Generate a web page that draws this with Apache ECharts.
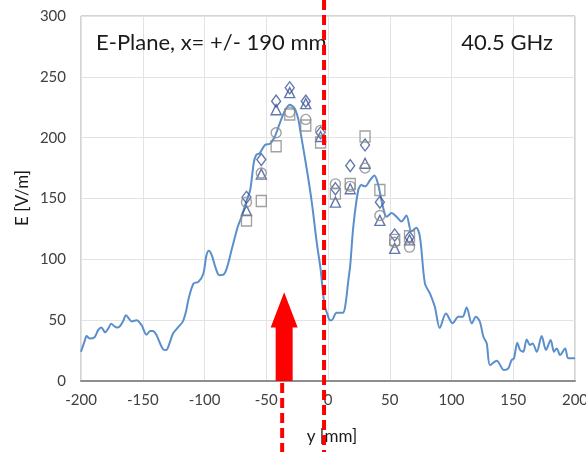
<!DOCTYPE html>
<html><head><meta charset="utf-8">
<script src="https://cdn.jsdelivr.net/npm/echarts@6/dist/echarts.min.js"></script>
<style>html,body{margin:0;padding:0;background:#fff}#c{width:586px;height:452px}</style>
</head><body><div id="c"></div>
<script>
// ---- data ----
const xTicks = [-200, -150, -100, -50, 0, 50, 100, 150, 200];
const yTicks = [0, 50, 100, 150, 200, 250, 300];

const simX = [-200,-197,-195.5,-193,-189,-186,-183.5,-180.5,-178,-175.5,-173,-171,-168.5,-166,-163.5,-161,-159,-155,-151,-147,-144,-142,-139,-136,-133.5,-131,-128,-125.5,-121.5,-117.5,-115,-113,-109,-105,-101,-98.5,-96.5,-94,-91,-88,-84,-81,-78,-73,-70,-66,-63,-60,-58,-55.5,-51,-47,-43,-39,-35,-31,-27,-24,-22.5,-17,-13,-9,-6,-4,-2.5,-0.5,1.5,3,7,12,14,16.5,18,20.5,24.5,27,30,34,37.5,40.5,44.5,47.5,51.5,55.5,59.5,63.5,67.5,71.5,74.5,78.5,82.5,86.5,90.5,95.5,101,105.5,109,112.3,116.4,119.8,123,125.8,128.5,131.2,136.6,142.5,146,148.7,150.6,153.3,155.5,158.1,160.9,163.6,165.7,169,173,176.5,180.3,183,185.2,187.9,192,194.6,200];
const simY = [24,33,37,35,36,42,44,40,43,47,45,44,45,49,54,51,49,50,46,38,41,41,38,31,26,25.5,32,39,44,49,57,67,80,81.5,88,103,107,103,93,87,88,96,108,127,135,148,157,180,186,187,194,195,201,212,222,227,224,215,206,173,146,113,92,72,61,55,50,50,56,56,62,83,95,127,157,161,160,165,169,162,143,135,138,135,131,136,123,126,118,80,72,61,43.5,55.5,47.4,52.8,52.8,60.5,47.3,52.8,48.7,36.4,31,13,16.7,9,10.4,17.3,18.6,31.5,25.5,24,34.2,29.6,30.9,24,37,25.5,33.7,24,26.8,21.4,26.8,18.6,18.6];

const measX       = [-66, -54, -42, -31, -18, -6, 6, 18, 30, 42, 54, 66];
const measDiamond = [151, 182, 230, 241, 230, 204, 158, 177, 194, 147, 120, 118];
const measTriangle= [140, 170, 223, 237, 228, 201, 147, 158, 179, 132, 109, 116];
const measCircle  = [147, 171, 204, 221, 215, 206, 162, 160, 175, 136, 114, 110];
const measSquare  = [132, 148, 193, 219, 210, 196, 154, 162, 201, 157, 116, 119];

// annotation positions (data units)
const feedLineX = -3.2;    // vertical red dashed line
const arrowX = -35.5;      // red arrow centre
const arrowTipY = 73;
const arrowHeadBaseY = 44;

const zip = (xs, ys) => xs.map((x, i) => [x, ys[i]]);

const FONT = 'Lato';
const chart = echarts.init(document.getElementById('c'), null, {renderer: 'canvas'});

function scatter(name, symbol, color, ys, size) {
  return {
    name, type: 'scatter', symbol, symbolSize: size,
    data: zip(measX, ys),
    itemStyle: {color: 'rgba(255,255,255,0)', borderColor: color, borderWidth: 1.4},
    z: 3, silent: true
  };
}

chart.setOption({
  animation: false,
  backgroundColor: '#fff',
  grid: {left: 81, right: 11, top: 16, bottom: 71, show: true, borderColor: '#a8a8a8', borderWidth: 1,
    containLabel: false, outerBoundsMode: 'none'},
  xAxis: {
    type: 'value', min: -200, max: 200, interval: 50,
    axisLine: {show: true, onZero: false, lineStyle: {color: '#8f8f8f', width: 2}},
    axisTick: {show: false},
    splitLine: {show: true, lineStyle: {color: '#e3e3e3', width: 1}},
    axisLabel: {color: '#404040', fontSize: 15, fontFamily: FONT, margin: 12, hideOverlap: false,
      formatter: v => xTicks.includes(v) ? String(v) : ''}
  },
  yAxis: {
    type: 'value', min: 0, max: 300, interval: 50,
    axisLine: {show: false},
    axisTick: {show: false},
    splitLine: {show: true, lineStyle: {color: '#e3e3e3', width: 1}},
    axisLabel: {color: '#404040', fontSize: 15, fontFamily: FONT, margin: 15,
      formatter: v => yTicks.includes(v) ? String(v) : ''}
  },
  series: [
    {
      name: 'sim', type: 'line', data: zip(simX, simY), smooth: 0.3,
      showSymbol: false, lineStyle: {color: '#5b8fcb', width: 2}, z: 2, silent: true
    },
    scatter('diamond', 'diamond', '#3b5597', measDiamond, [9, 12]),
    scatter('triangle', 'triangle', '#3b5597', measTriangle, [10, 10]),
    scatter('circle', 'circle', '#8a8a8a', measCircle, 10),
    scatter('square', 'rect', '#8a8a8a', measSquare, [10, 11])
  ]
});

// graphic overlays: texts + red annotations
const pLine = chart.convertToPixel({gridIndex: 0}, [feedLineX, 0]);
const pArrowBase = chart.convertToPixel({gridIndex: 0}, [arrowX, 0]);
const pArrowTip = chart.convertToPixel({gridIndex: 0}, [arrowX, arrowTipY]);
const pArrowHead = chart.convertToPixel({gridIndex: 0}, [arrowX, arrowHeadBaseY]);
const ax = pArrowBase[0];

chart.setOption({
  graphic: [
    {type: 'text', left: 96, top: 32, z: 10, style: {text: 'E-Plane, x= +/- 190 mm', font: '22px ' + FONT, fill: '#1a1a1a'}},
    {type: 'text', right: 33, top: 32, z: 10, style: {text: '40.5 GHz', font: '22px ' + FONT, fill: '#1a1a1a'}},
    {type: 'text', x: 23, y: 198, rotation: Math.PI / 2, z: 10,
      style: {text: 'E [V/m]', font: '17px ' + FONT, fill: '#1a1a1a', align: 'center', verticalAlign: 'middle'}},
    {type: 'text', x: 332, y: 437, z: 10,
      style: {text: 'y [mm]', font: '17px ' + FONT, fill: '#1a1a1a', align: 'center', verticalAlign: 'middle'}},
    {type: 'polygon', z: 20, shape: {points: [
      [ax - 8.5, pArrowBase[1]], [ax - 8.5, pArrowHead[1]], [ax - 13.5, pArrowHead[1]],
      [ax, pArrowTip[1]], [ax + 13.5, pArrowHead[1]], [ax + 8.5, pArrowHead[1]], [ax + 8.5, pArrowBase[1]]
    ]}, style: {fill: '#ff0000'}},
    {type: 'line', z: 20, shape: {x1: ax - 2, y1: pArrowBase[1] + 2, x2: ax - 2, y2: 452},
      style: {stroke: '#ff0000', lineWidth: 4, lineDash: [10, 5]}},
    {type: 'line', z: 20, shape: {x1: pLine[0], y1: 0, x2: pLine[0], y2: 452},
      style: {stroke: '#ff0000', lineWidth: 4, lineDash: [10, 5]}}
  ]
});
</script>
</body></html>
